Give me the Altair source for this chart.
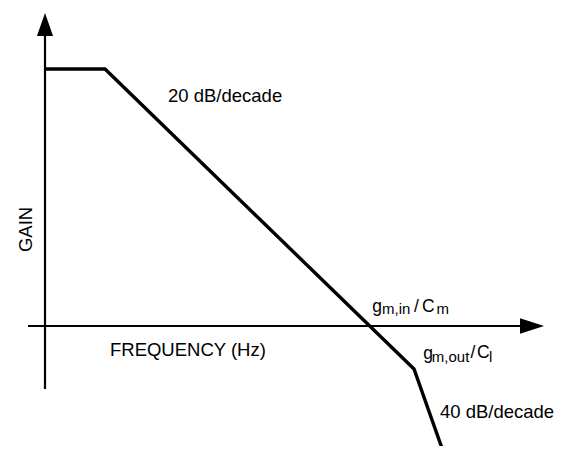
import altair as alt
import pandas as pd

# Schematic Bode magnitude plot: frequency in decades, gain in dB
curve_decade = [0.0, 1.0, 6.15, 6.65]
curve_gain = [88.0, 88.0, -14.7, -43.8]

# axis extents (decades / dB)
yaxis_decade = [0.0, 0.0]
yaxis_gain = [-21.6, 103.0]
xaxis_decade = [-0.283, 8.10]
xaxis_gain = [0.0, 0.0]

# arrowhead positions
arrow_decade = [0.0, 8.117]
arrow_gain = [103.25, 0.0]

# annotations
label_text = ["20 dB/decade", "FREQUENCY (Hz)", "40 dB/decade",
              "g", "m,in", "/", "C", "m",
              "g", "m,out", "/", "C", "l"]
label_decade = [2.05, 1.083, 6.583,
                5.455, 5.617, 6.15, 6.283, 6.525,
                6.305, 6.447, 7.09, 7.2, 7.4]
label_gain = [76.7, -10.27, -31.6,
              4.9, 4.0, 4.8, 4.8, 4.0,
              -11.3, -12.3, -11.0, -11.0, -12.3]
label_size = [18.5, 18.5, 18.5,
              17.5, 15, 17.5, 17.5, 15,
              17.5, 15, 17.5, 17.5, 15]

gain_title = ["GAIN"]
gain_title_decade = [-0.217]
gain_title_gain = [33.05]

X_DOMAIN = [-0.6167, 8.5667]
Y_DOMAIN = [-41.1, 108.9]
FONT = "Liberation Sans"

xs = alt.Scale(domain=X_DOMAIN, nice=False, zero=False)
ys = alt.Scale(domain=Y_DOMAIN, nice=False, zero=False)

curve_df = pd.DataFrame({"d": curve_decade, "g": curve_gain, "i": range(len(curve_decade))})
axes_df = pd.DataFrame({
    "d": [yaxis_decade[0], xaxis_decade[0]],
    "d2": [yaxis_decade[1], xaxis_decade[1]],
    "g": [yaxis_gain[0], xaxis_gain[0]],
    "g2": [yaxis_gain[1], xaxis_gain[1]],
})
up_df = pd.DataFrame({"d": [arrow_decade[0]], "g": [arrow_gain[0]]})
right_df = pd.DataFrame({"d": [arrow_decade[1]], "g": [arrow_gain[1]]})
label_df = pd.DataFrame({"t": label_text, "d": label_decade, "g": label_gain, "s": label_size})
gain_df = pd.DataFrame({"t": gain_title, "d": gain_title_decade, "g": gain_title_gain})

axes = alt.Chart(axes_df).mark_rule(color="black", strokeWidth=2.2).encode(
    x=alt.X("d:Q", scale=xs, axis=None),
    x2="d2:Q",
    y=alt.Y("g:Q", scale=ys, axis=None),
    y2="g2:Q",
)

up_arrow = alt.Chart(up_df).mark_point(
    shape="M0,-1L0.7,1L-0.7,1Z", filled=True, color="black", opacity=1, size=529, strokeWidth=0
).encode(x=alt.X("d:Q", scale=xs, axis=None), y=alt.Y("g:Q", scale=ys, axis=None))

right_arrow = alt.Chart(right_df).mark_point(
    shape="M1,0L-1,-0.65L-1,0.65Z", filled=True, color="black", opacity=1, size=576, strokeWidth=0
).encode(x=alt.X("d:Q", scale=xs, axis=None), y=alt.Y("g:Q", scale=ys, axis=None))

curve = alt.Chart(curve_df).mark_line(color="black", strokeWidth=3.4, strokeJoin="miter").encode(
    x=alt.X("d:Q", scale=xs, axis=None),
    y=alt.Y("g:Q", scale=ys, axis=None),
    order="i:O",
)

labels = alt.Chart(label_df).mark_text(
    align="left", baseline="alphabetic", font=FONT, color="black"
).encode(
    x=alt.X("d:Q", scale=xs, axis=None),
    y=alt.Y("g:Q", scale=ys, axis=None),
    text="t:N",
    size=alt.Size("s:Q", scale=None, legend=None),
)

gain_label = alt.Chart(gain_df).mark_text(
    align="center", baseline="alphabetic", angle=270, font=FONT, fontSize=18.5, color="black"
).encode(
    x=alt.X("d:Q", scale=xs, axis=None),
    y=alt.Y("g:Q", scale=ys, axis=None),
    text="t:N",
)

chart = alt.layer(axes, curve, up_arrow, right_arrow, labels, gain_label).properties(
    width=551, height=438, padding=0,
    autosize=alt.AutoSizeParams(type="none", contains="padding"),
    background="white",
).configure_view(stroke=None)

chart.save("out.html", embed_options={"renderer": "svg", "actions": False})
